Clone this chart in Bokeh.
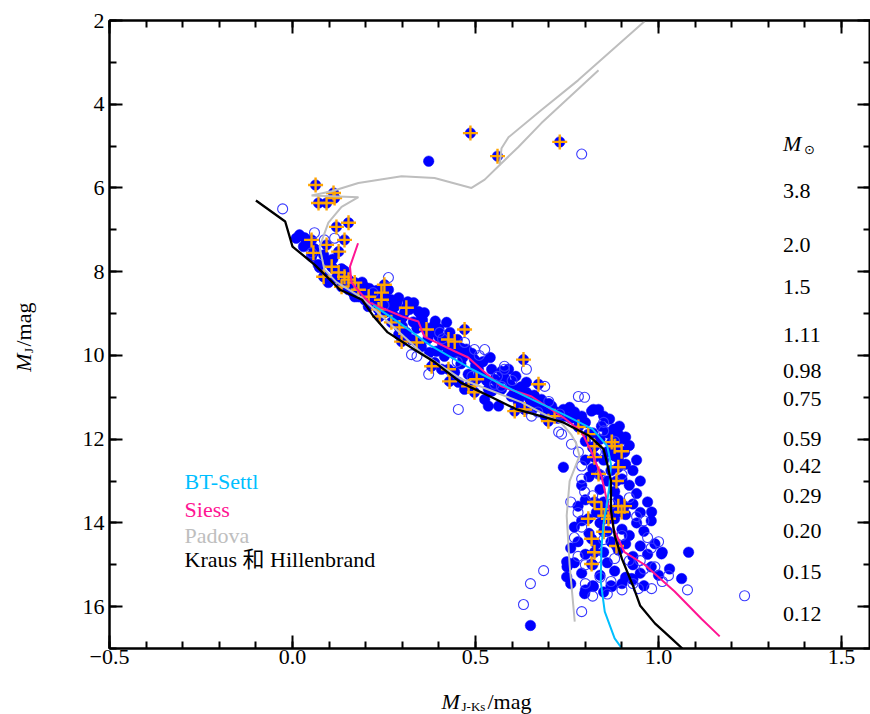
from bokeh.plotting import figure
from bokeh.models import Range1d, LinearAxis, SingleIntervalTicker, PrintfTickFormatter
from bokeh.layouts import row, column
from bokeh.core.properties import value
from bokeh.embed import file_html
from bokeh.resources import INLINE
import math

# ---------------- data ----------------
# model tracks (x = M_J-Ks, y = M_J)
bt_settl_x = [0.22, 0.29, 0.38, 0.49, 0.63, 0.75, 0.82, 0.86, 0.87, 0.866, 0.858, 0.85, 0.844, 0.842, 0.853, 0.88, 0.90]
bt_settl_y = [8.80, 9.21, 9.78, 10.33, 10.95, 11.45, 11.76, 12.17, 12.6, 13.1, 13.6, 14.0, 14.6, 15.4, 16.12, 16.76, 17.0]

siess_x = [0.179, 0.157, 0.161, 0.19, 0.21, 0.30, 0.344, 0.36, 0.443, 0.48, 0.525, 0.571, 0.653, 0.743, 0.79,
           0.817, 0.844, 0.858, 0.87, 0.877, 0.907, 0.962, 1.044, 1.117, 1.167]
siess_y = [7.32, 7.88, 8.26, 8.55, 8.74, 9.07, 9.19, 9.55, 9.90, 10.05, 10.4, 10.74, 10.98, 11.5, 11.83,
           12.31, 12.88, 13.43, 13.8, 14.14, 14.7, 15.0, 15.64, 16.29, 16.71]

padova_x = [0.771, 0.757, 0.749, 0.757, 0.784, 0.775, 0.762, 0.735, 0.626, 0.462, 0.352, 0.189, 0.12, 0.087,
            0.074, 0.098, 0.134, 0.18, 0.052, 0.107, 0.18, 0.298, 0.388, 0.489, 0.525, 0.566, 0.571, 0.59,
            0.68, 0.78, 0.962]
padova_y = [16.36, 15.0, 13.83, 13.0, 12.4, 12.1, 11.9, 11.62, 11.12, 10.57, 9.93, 8.62, 8.25, 7.95,
            7.4, 6.83, 6.45, 6.22, 6.18, 6.08, 5.88, 5.72, 5.76, 6.0, 5.8, 5.45, 5.05, 4.79,
            4.14, 3.43, 2.02]
padova2_x = [0.566, 0.617, 0.68, 0.836]
padova2_y = [5.45, 5.02, 4.45, 3.19]

kraus_x = [-0.10, -0.02, 0.00, 0.06, 0.13, 0.19, 0.22, 0.26, 0.34, 0.39, 0.46, 0.54, 0.61, 0.74, 0.81, 0.85,
           0.86, 0.87, 0.87, 0.88, 0.90, 0.93, 0.95, 0.99, 1.035, 1.065]
kraus_y = [6.30, 6.80, 7.40, 7.83, 8.43, 8.67, 9.05, 9.45, 9.90, 10.17, 10.65, 10.98, 11.28, 11.60, 11.92, 12.24,
           12.60, 13.0, 13.70, 14.3, 14.86, 15.5, 15.98, 16.4, 16.76, 17.0]

# member stars: filled circles
filled_pts = [
    (0.372, 5.36),
    (0.019, 7.12), (0.033, 7.19), (0.045, 7.35), (0.052, 7.64), (0.07, 7.83), (0.098, 7.75), (0.074, 7.9),
    (0.115, 7.95), (0.134, 7.93), (0.142, 7.98), (0.134, 8.21), (0.161, 8.29), (0.189, 8.43), (0.18, 8.6),
    (0.216, 8.5), (0.224, 8.62), (0.27, 8.67), (0.26, 8.8), (0.279, 8.84), (0.098, 8.26), (0.153, 8.43),
    (0.17, 8.6), (0.197, 8.67), (0.207, 8.83), (0.224, 8.6), (0.262, 8.43), (0.251, 8.98), (0.279, 9.07),
    (0.306, 8.98), (0.331, 8.74), (0.344, 8.95), (0.352, 9.07), (0.29, 9.5), (0.311, 9.45), (0.325, 9.62),
    (0.352, 9.79), (0.374, 9.93), (0.393, 9.9), (0.415, 10.02), (0.421, 9.21), (0.388, 10.17), (0.407, 10.33),
    (0.443, 10.4), (0.453, 10.64), (0.47, 10.81), (0.497, 10.1), (0.508, 10.33), (0.516, 10.5), (0.525, 11.05),
    (0.544, 10.33), (0.552, 10.57), (0.571, 10.81), (0.59, 10.33), (0.563, 11.21), (0.598, 10.98),
    (0.617, 11.12), (0.407, 9.57), (0.38, 9.45), (0.36, 9.3), (0.44, 9.95), (0.46, 10.2), (0.48, 10.45),
    (0.33, 9.2), (0.30, 9.3), (0.24, 8.9), (0.535, 10.8), (0.571, 10.38), (0.535, 11.21),
    (0.20, 8.38), (0.23, 8.45), (0.29, 8.62), (0.315, 8.72), (0.36, 8.98), (0.39, 9.18), (0.40, 9.36),
    (0.43, 9.45), (0.45, 9.62), (0.46, 9.82), (0.49, 9.95), (0.52, 10.15), (0.54, 10.05), (0.61, 10.5),
    (0.01, 7.2), (0.03, 7.4), (0.06, 7.45), (0.085, 7.6), (0.11, 7.7), (0.12, 8.15), (0.145, 8.35),
    (0.165, 8.5), (0.19, 8.25), (0.21, 8.4), (0.235, 8.75), (0.25, 8.55), (0.27, 8.95), (0.285, 8.75),
    (0.30, 9.1), (0.32, 8.9), (0.34, 9.35), (0.355, 9.15), (0.37, 9.6), (0.385, 9.3), (0.40, 9.55),
    (0.41, 9.75), (0.425, 9.9), (0.435, 9.7), (0.45, 9.85), (0.465, 10.05), (0.475, 9.85), (0.50, 10.25),
    (0.51, 10.45), (0.53, 10.6), (0.545, 10.85), (0.56, 10.65), (0.58, 10.55), (0.595, 10.7), (0.605, 10.9),
    (0.625, 10.75), (0.645, 11.0), (0.66, 11.25), (0.675, 11.1), (0.69, 11.45), (0.71, 11.3), (0.725, 11.5),
    (0.745, 11.45), (0.77, 11.35), (0.79, 11.45),
    (0.639, 10.64), (0.639, 10.88), (0.617, 10.81), (0.66, 10.95), (0.68, 11.05), (0.62, 11.0),
    (0.65, 11.1), (0.67, 11.2), (0.69, 11.3), (0.70, 11.15), (0.708, 11.21), (0.72, 11.35), (0.74, 11.29),
    (0.757, 11.24), (0.76, 11.5), (0.78, 11.55), (0.80, 11.6), (0.817, 11.33), (0.822, 11.29),
    (0.836, 11.29), (0.85, 11.45), (0.866, 11.52), (0.877, 11.76), (0.893, 11.69), (0.89, 11.88),
    (0.844, 11.69), (0.907, 12.31), (0.82, 11.85), (0.86, 11.85), (0.74, 12.67),
    (0.80, 12.05), (0.82, 12.2), (0.84, 12.0), (0.86, 12.3), (0.90, 12.0), (0.92, 12.15), (0.91, 11.95),
    (0.88, 12.4), (0.80, 12.5), (0.82, 12.7), (0.85, 12.5), (0.87, 12.75), (0.89, 12.45), (0.91, 12.6),
    (0.93, 12.75), (0.94, 12.5), (0.79, 13.1), (0.81, 12.9), (0.84, 13.2), (0.86, 13.0), (0.88, 13.25),
    (0.90, 12.95), (0.92, 13.1), (0.94, 13.3), (0.95, 13.0), (0.78, 13.6), (0.80, 13.45), (0.83, 13.75),
    (0.85, 13.5), (0.87, 13.7), (0.89, 13.45), (0.91, 13.8), (0.93, 13.55), (0.95, 13.75), (0.97, 13.5),
    (0.77, 14.1), (0.79, 13.95), (0.81, 14.25), (0.84, 14.0), (0.86, 14.2), (0.88, 13.9), (0.90, 14.15),
    (0.92, 14.3), (0.94, 14.0), (0.96, 14.2), (0.98, 13.95), (0.76, 14.6), (0.78, 14.45), (0.80, 14.75),
    (0.83, 14.5), (0.85, 14.7), (0.87, 14.45), (0.89, 14.65), (0.91, 14.5), (0.93, 14.8), (0.95, 14.55),
    (0.97, 14.75), (0.99, 14.5), (1.01, 14.7), (0.75, 15.05), (0.77, 14.95), (0.79, 15.2), (0.82, 15.0),
    (0.84, 15.25), (0.86, 14.95), (0.88, 15.15), (0.91, 15.3), (0.93, 15.0), (0.95, 15.2), (0.98, 15.05),
    (1.0, 15.25), (1.03, 15.1), (0.76, 15.45), (0.80, 15.6), (0.82, 15.5), (0.85, 15.65), (0.87, 15.5),
    (0.90, 15.45), (0.93, 15.35), (0.96, 15.5),
    (0.981, 13.74), (1.082, 14.7), (1.008, 14.74), (1.063, 15.33), (0.749, 15.29), (0.749, 14.93),
    (0.798, 15.69), (0.822, 15.52), (0.872, 15.52), (0.926, 15.33), (0.65, 16.45),
]

# open circles
open_pts = [
    (-0.027, 6.5), (0.79, 5.19), (0.06, 7.07), (0.087, 7.24), (0.052, 7.55), (0.262, 8.14), (0.402, 9.45),
    (0.47, 9.69), (0.497, 9.86), (0.525, 9.86), (0.325, 9.98), (0.34, 10.02), (0.372, 10.45), (0.579, 10.33),
    (0.453, 11.29), (0.552, 10.69), (0.579, 10.26), (0.639, 10.33), (0.689, 10.74), (0.571, 10.74),
    (0.653, 11.45), (0.781, 10.98), (0.798, 11.0), (0.735, 11.88), (0.762, 12.12), (0.85, 11.6),
    (0.781, 12.31), (0.79, 12.64), (0.79, 12.95), (0.798, 13.26), (0.727, 11.83), (0.686, 15.14),
    (0.65, 15.45), (0.631, 15.95), (0.79, 16.12), (1.079, 15.6), (1.235, 15.74), (1.027, 15.26),
    (1.0, 14.45), (0.981, 15.57), (0.945, 15.57), (0.90, 15.6), (0.86, 15.7), (0.82, 15.75), (0.80, 15.45),
    (0.78, 14.8), (0.77, 14.35), (0.78, 13.75), (0.76, 13.5), (0.79, 14.1), (0.80, 15.0), (0.83, 14.85),
    (0.85, 14.4), (0.88, 14.85), (0.90, 14.3), (0.92, 14.9), (0.95, 14.9), (0.97, 14.35), (0.96, 15.1),
    (0.99, 15.05), (1.01, 15.4), (0.93, 15.45), (0.87, 15.4), (0.84, 15.3), (0.82, 13.35), (0.84, 12.85),
    (0.90, 12.85), (0.92, 13.4), (0.94, 13.85), (0.87, 13.55), (0.85, 11.8), (0.88, 12.05), (0.96, 13.95),
    (0.98, 14.6), (0.83, 12.3), (0.41, 9.6), (0.51, 10.0), (0.56, 10.5), (0.60, 10.6), (0.45, 10.15),
    (0.49, 10.5), (0.22, 8.5), (0.16, 8.3), (0.115, 7.2), (0.25, 8.8), (0.70, 11.1), (0.73, 11.4),
    (0.67, 11.35),
]

# stars marked with orange crosses (drawn over a filled circle)
cross_pts = [
    (0.486, 4.69), (0.56, 5.24), (0.73, 4.9), (0.063, 5.93), (0.112, 6.12), (0.071, 6.36), (0.093, 6.36),
    (0.115, 6.24), (0.12, 6.93), (0.153, 6.83), (0.142, 7.24), (0.126, 7.52), (0.052, 7.24), (0.057, 7.55),
    (0.093, 7.36), (0.107, 7.88), (0.085, 8.12), (0.126, 8.02), (0.142, 8.12), (0.153, 8.19),
    (0.134, 8.36), (0.17, 8.26), (0.18, 8.43), (0.208, 8.6), (0.243, 8.5), (0.251, 8.31), (0.243, 8.67),
    (0.235, 8.9), (0.311, 8.86), (0.238, 9.07), (0.27, 9.21), (0.292, 9.33), (0.298, 9.67), (0.339, 9.69),
    (0.366, 9.38), (0.426, 9.62), (0.443, 9.67), (0.47, 9.38), (0.38, 10.26), (0.426, 10.33), (0.429, 10.62),
    (0.481, 10.74), (0.497, 10.88), (0.503, 10.57), (0.607, 11.33), (0.634, 11.29), (0.631, 10.1),
    (0.672, 10.69), (0.699, 11.57), (0.716, 11.45), (0.781, 11.71), (0.808, 11.88), (0.825, 12.17),
    (0.88, 12.17), (0.899, 12.29), (0.872, 12.07), (0.825, 12.43), (0.836, 12.83), (0.89, 12.67),
    (0.885, 13.0), (0.825, 13.5), (0.844, 13.67), (0.89, 13.6), (0.853, 13.83), (0.907, 13.6),
    (0.899, 13.74), (0.808, 13.9), (0.863, 13.9), (0.817, 14.38), (0.85, 14.21), (0.885, 14.55),
    (0.825, 14.7), (0.817, 14.98),
]

# stellar masses labelled at the right edge
mass_labels = ["3.8", "2.0", "1.5", "1.11", "0.98", "0.75", "0.59", "0.42", "0.29", "0.20", "0.15", "0.12"]
mass_label_y = [6.07, 7.36, 8.36, 9.52, 10.38, 11.05, 12.0, 12.64, 13.36, 14.19, 15.17, 16.17]
mass_label_x = 1.34
mass_header_y = 4.93

legend_names = ["BT-Settl", "Siess", "Padova", "Kraus 和 Hillenbrand"]
legend_colors = ["#00BFFF", "#FF1493", "#BEBEBE", "#000000"]
legend_y = [13.02, 13.67, 14.29, 14.88]
legend_x = -0.295

x_tick_overrides = {-0.5: "−0.5"}

# ---------------- figure ----------------
FONT = "'Liberation Serif', 'Noto Sans CJK SC', serif"
FS = "22px"
YL_W = 70          # width of the strip holding the y title
MAIN_W = 870 - YL_W
MAIN_H = 676
XL_H = 714 - MAIN_H


def bare(fig):
    fig.xgrid.visible = False
    fig.ygrid.visible = False
    fig.outline_line_color = None
    fig.background_fill_color = "white"
    fig.border_fill_color = "white"
    return fig


p = figure(width=MAIN_W, height=MAIN_H, output_backend="svg", toolbar_location=None,
           x_range=Range1d(-0.5, 1.579), y_range=Range1d(17, 2),
           x_axis_location=None, y_axis_location=None,
           min_border_left=109 - YL_W, min_border_right=0, min_border_top=20, min_border_bottom=MAIN_H - 648)
p.xgrid.visible = False
p.ygrid.visible = False
p.outline_line_color = "black"
p.outline_line_width = 2
p.background_fill_color = "white"
p.border_fill_color = "white"


def make_axis(interval, nminor, show_labels):
    ax = LinearAxis(ticker=SingleIntervalTicker(interval=interval, num_minor_ticks=nminor))
    ax.major_tick_in = 13
    ax.major_tick_out = 0
    ax.minor_tick_in = 7
    ax.minor_tick_out = 0
    ax.major_tick_line_width = 2
    ax.minor_tick_line_width = 2
    ax.axis_line_width = 2
    ax.major_tick_line_color = "black"
    ax.minor_tick_line_color = "black"
    ax.axis_line_color = "black"
    if show_labels:
        ax.major_label_text_font = FONT
        ax.major_label_text_font_size = FS
        ax.major_label_text_color = "black"
    else:
        ax.major_label_text_font_size = "0px"
        ax.major_label_text_color = None
        ax.major_label_text_alpha = 0
        ax.major_label_standoff = 0
    return ax


xb = make_axis(0.5, 5, True)
xb.formatter = PrintfTickFormatter(format="%.1f")
xb.major_label_standoff = 1
xb.major_label_overrides = x_tick_overrides
p.add_layout(xb, "below")
p.add_layout(make_axis(0.5, 5, False), "above")
yl = make_axis(2, 2, True)
yl.major_label_standoff = 5
p.add_layout(yl, "left")
p.add_layout(make_axis(2, 2, False), "right")

# points
fx = [a for a, b in filled_pts]
fy = [b for a, b in filled_pts]
ox = [a for a, b in open_pts]
oy = [b for a, b in open_pts]
cx = [a for a, b in cross_pts]
cy = [b for a, b in cross_pts]

p.scatter(fx, fy, marker="circle", size=10.5, fill_color="#0000FF", line_color="#0000FF", line_width=0.5)
p.scatter(cx, cy, marker="circle", size=10.5, fill_color="#0000FF", line_color="#0000FF", line_width=0.5)
p.scatter(ox, oy, marker="circle", size=10, fill_color=None, line_color="#3A3AFF", line_width=1.1)
p.scatter(cx, cy, marker="cross", size=15, line_color="#FFA500", line_width=2.4)

# model lines
p.line(padova_x, padova_y, line_color="#BEBEBE", line_width=2)
p.line(padova2_x, padova2_y, line_color="#BEBEBE", line_width=2)
p.line(siess_x, siess_y, line_color="#FF1493", line_width=2)
p.line(bt_settl_x, bt_settl_y, line_color="#00BFFF", line_width=2)
p.line(kraus_x, kraus_y, line_color="black", line_width=2.3)

# legend texts
p.text(x=[legend_x] * len(legend_names), y=legend_y, text=legend_names, text_color=legend_colors,
       text_font=value(FONT), text_font_size=FS, text_align="left", text_baseline="middle")

# mass labels
p.text(x=[mass_label_x] * len(mass_labels), y=mass_label_y, text=mass_labels, text_color="black",
       text_font=value(FONT), text_font_size=FS, text_align="left", text_baseline="middle")
p.text(x=[mass_label_x], y=[mass_header_y], text=["M"], text_color="black", text_font=value(FONT),
       text_font_size=FS, text_font_style="italic", text_align="left", text_baseline="middle")
p.text(x=[mass_label_x], y=[mass_header_y], text=["⊙"], text_color="black",
       text_font=value("'DejaVu Sans', serif"), text_font_size="13px", text_align="left",
       text_baseline="middle", x_offset=21, y_offset=6)

# ---- x title strip, full page width (x = page pixel, y = page pixel) ----
px_ = bare(figure(width=870, height=XL_H, output_backend="svg", toolbar_location=None,
                  x_range=Range1d(0, 870), y_range=Range1d(714, MAIN_H),
                  x_axis_location=None, y_axis_location=None,
                  min_border_left=0, min_border_right=0, min_border_top=0, min_border_bottom=0))
px_.text(x=[441], y=[701], text=["M"], text_font=value(FONT), text_font_size=FS,
         text_font_style="italic", text_baseline="alphabetic", text_align="left", text_color="black")
px_.text(x=[461], y=[706], text=["J-Ks"], text_font=value(FONT), text_font_size="13px",
         text_baseline="alphabetic", text_align="left", text_color="black")
px_.text(x=[487], y=[701], text=["/mag"], text_font=value(FONT), text_font_size=FS,
         text_baseline="alphabetic", text_align="left", text_color="black")

# ---- y title strip (y = 714 - page pixel) ----
py_ = bare(figure(width=YL_W, height=MAIN_H, output_backend="svg", toolbar_location=None,
                  x_range=Range1d(0, YL_W), y_range=Range1d(714 - MAIN_H, 714),
                  x_axis_location=None, y_axis_location=None,
                  min_border_left=0, min_border_right=0, min_border_top=0, min_border_bottom=0))
py_.text(x=[23], y=[714 - 378], text=["M"], text_font=value(FONT), text_font_size=FS,
         text_font_style="italic", text_baseline="alphabetic", text_align="left", text_color="black",
         angle=math.pi / 2)
py_.text(x=[28], y=[714 - 358], text=["J"], text_font=value(FONT), text_font_size="13px",
         text_baseline="alphabetic", text_align="left", text_color="black", angle=math.pi / 2)
py_.text(x=[23], y=[714 - 351], text=["/mag"], text_font=value(FONT), text_font_size=FS,
         text_baseline="alphabetic", text_align="left", text_color="black", angle=math.pi / 2)

layout = column(row(py_, p), px_)
open("out.html", "w").write(file_html(layout, INLINE))
